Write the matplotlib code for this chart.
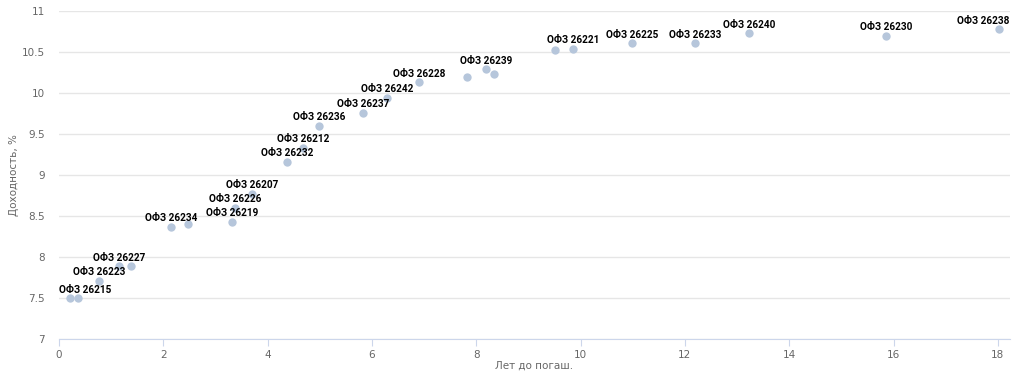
import matplotlib
matplotlib.use("Agg")
import matplotlib.pyplot as plt
import numpy as np

# годы до погашения и доходность
years = [0.21, 0.36, 0.77, 1.15, 1.38, 2.15, 2.47, 3.32, 3.37, 3.70, 4.37, 4.68,
         4.98, 5.83, 6.29, 6.90, 7.82, 8.18, 8.34, 9.51, 9.85, 10.99, 12.19,
         13.23, 15.85, 18.02]
yields = [7.50, 7.50, 7.71, 7.89, 7.89, 8.37, 8.40, 8.43, 8.60, 8.77, 9.16, 9.33,
          9.60, 9.76, 9.94, 10.13, 10.20, 10.29, 10.23, 10.52, 10.54, 10.61, 10.61,
          10.73, 10.70, 10.78]
# подписи (пустая строка = подпись скрыта)
names = ["ОФЗ 26215", "", "ОФЗ 26223", "ОФЗ 26227", "", "ОФЗ 26234", "",
         "ОФЗ 26219", "ОФЗ 26226", "ОФЗ 26207", "ОФЗ 26232", "ОФЗ 26212",
         "ОФЗ 26236", "ОФЗ 26237", "ОФЗ 26242", "ОФЗ 26228", "", "ОФЗ 26239", "",
         "", "ОФЗ 26221", "ОФЗ 26225", "ОФЗ 26233", "ОФЗ 26240", "ОФЗ 26230",
         "ОФЗ 26238"]

fig = plt.figure(figsize=(10.24, 3.77), dpi=100)
ax = fig.add_axes([0.0576, 0.1008, 0.9286, 0.8700])

ax.scatter(years, yields, s=36, color="#b6c6db", linewidths=0, zorder=3)

texts = []
for x, y, n in zip(years, yields, names):
    if n:
        t = ax.annotate(n, (x, y), xytext=(0, 2.5), textcoords="offset points",
                        ha="center", va="bottom", fontsize=7.2, fontweight="bold",
                        family="Roboto", color="#000000", zorder=4)
        texts.append(t)

ax.set_xlim(0, 18.23)
ax.set_ylim(7, 11)
ax.set_xticks(np.arange(0, 19, 2))
ax.set_yticks(np.arange(7, 11.01, 0.5))
ax.set_yticklabels(["7", "7.5", "8", "8.5", "9", "9.5", "10", "10.5", "11"])
ax.grid(axis="y", color="#e6e6e6", linewidth=1)
ax.set_axisbelow(True)
for s in ["top", "right", "left"]:
    ax.spines[s].set_visible(False)
ax.spines["bottom"].set_color("#ccd6eb")
ax.tick_params(axis="x", colors="#ccd6eb", length=5, labelcolor="#666666", labelsize=7.5, pad=3)
ax.tick_params(axis="y", length=0, labelcolor="#666666", labelsize=7.5, pad=10)
ax.set_xlabel("Лет до погаш.", color="#666666", fontsize=7.5)
ax.set_ylabel("Доходность, %", color="#666666", fontsize=7.5)
ax.xaxis.set_label_coords(0.5, -0.082)
ax.yaxis.set_label_coords(-0.047, 0.5)
ax.xaxis.label.set_va("center")
ax.yaxis.label.set_va("center")

# подписи не выходят за область графика
fig.canvas.draw()
r = fig.canvas.get_renderer()
box = ax.get_window_extent(r)
for t in texts:
    bb = t.get_window_extent(r)
    dx = 0
    if bb.x0 < box.x0:
        dx = box.x0 - bb.x0
    elif bb.x1 > box.x1:
        dx = box.x1 - bb.x1
    if dx:
        t.xyann = (t.xyann[0] + dx * 72 / fig.dpi, t.xyann[1])

fig.savefig("out.png", dpi=100)
